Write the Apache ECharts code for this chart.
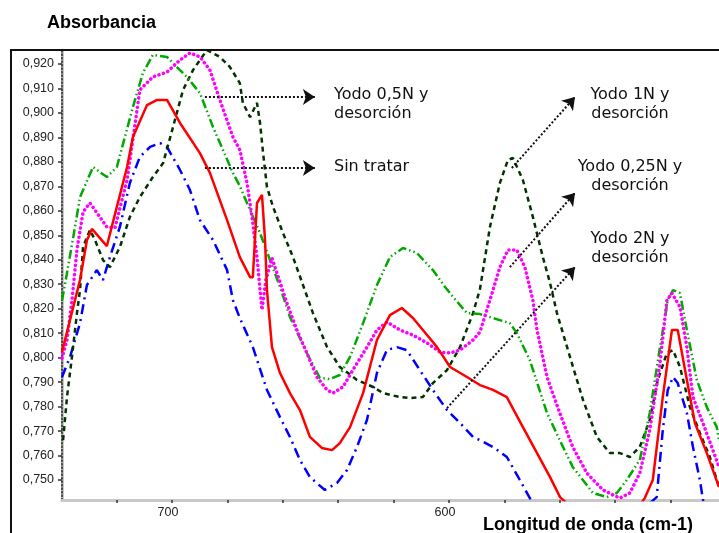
<!DOCTYPE html>
<html>
<head>
<meta charset="utf-8">
<script src="https://cdn.jsdelivr.net/npm/echarts@6/dist/echarts.min.js"></script>
<style>
html,body{margin:0;padding:0;background:#fff;}
#chart{width:719px;height:533px;}
</style>
</head>
<body>
<div id="chart"></div>
<script>
// ---- data (wavenumber cm-1, absorbance) ----
const sinTratar = [[739.7,0.8023],[733.2,0.8317],[730.7,0.848],[728.9,0.8526],[723.5,0.8456],[719.9,0.8616],[716.2,0.8779],[714.1,0.8902],[709.0,0.9032],[705.4,0.9053],[701.8,0.9053],[697.1,0.8959],[689.9,0.8836],[686.3,0.8755],[680.1,0.8562],[675.5,0.8411],[671.8,0.8329],[670.8,0.8329],[669.3,0.8632],[667.5,0.8665],[666.4,0.8481],[665.7,0.8276],[663.9,0.8043],[661.0,0.7937],[657.4,0.7855],[653.8,0.7786],[650.2,0.7676],[645.9,0.7631],[642.2,0.7622],[639.4,0.7651],[635.7,0.7716],[631.0,0.7855],[626.0,0.8072],[621.3,0.8174],[617.0,0.8203],[613.0,0.8162],[609.4,0.8113],[604.3,0.8043],[599.6,0.7962],[593.5,0.7921],[588.8,0.7888],[584.1,0.7868],[579.1,0.7839],[573.3,0.7716],[568.2,0.7610],[563.5,0.7512],[559.9,0.7430],[552,0.735],[542,0.731],[534,0.735],[529.3,0.7426],[526.4,0.7500],[522.8,0.7839],[519.5,0.8113],[517.4,0.8113],[514.1,0.7909],[511.2,0.7733],[506.9,0.7610],[502.5,0.7471]];

const yodo05N = [[739.7,0.8235],[739.0,0.8276],[737.9,0.8346],[735.0,0.8534],[733.2,0.8656],[728.5,0.8779],[723.5,0.8738],[719.9,0.8779],[714.1,0.9024],[710.5,0.9163],[706.9,0.9237],[701.8,0.9229],[697.1,0.9175],[694.6,0.9147],[689.9,0.9081],[685.2,0.8943],[678.0,0.8755],[675.5,0.8701],[671.8,0.8603],[668.2,0.8509],[664.6,0.8399],[661.0,0.8289],[657.4,0.8166],[651.3,0.8019],[646.6,0.7917],[643.0,0.7913],[639.4,0.7929],[635.7,0.8003],[631.0,0.8141],[626.0,0.8297],[621.3,0.8411],[616.6,0.8448],[611.6,0.8428],[605.8,0.8358],[601.4,0.8289],[598.5,0.8248],[593.5,0.8182],[588.8,0.8178],[584.1,0.8162],[578.0,0.8141],[575.5,0.8101],[570.8,0.7990],[564.6,0.7774],[560.0,0.7663],[555.3,0.7553],[548.0,0.7447],[543.0,0.7430],[539.4,0.7447],[535.8,0.7500],[531.1,0.7582],[527.5,0.7774],[523.8,0.8043],[521.0,0.8235],[519.1,0.8276],[516.6,0.8264],[514.1,0.8113],[510.5,0.7909],[506.9,0.7798],[503.3,0.7716],[502.5,0.766]];

const yodo025N = [[739.7,0.7998],[737.9,0.8072],[736.1,0.8235],[734.3,0.844],[732.1,0.8595],[729.6,0.8632],[728.9,0.8632],[723.5,0.8534],[720.6,0.8530],[716.2,0.8726],[711.6,0.9094],[706.9,0.9147],[701.8,0.9167],[697.1,0.9216],[693.5,0.9245],[689.9,0.9229],[686.3,0.9175],[682.7,0.9053],[678.0,0.8902],[675.5,0.8849],[672.9,0.8714],[671.1,0.8575],[669.3,0.8411],[667.5,0.8195],[666.1,0.8317],[663.9,0.8407],[662.1,0.8346],[658.5,0.8223],[654.9,0.8113],[651.3,0.8019],[647.7,0.7921],[644.0,0.7868],[641.9,0.7855],[638.3,0.7880],[634.7,0.7949],[629.6,0.8043],[626.0,0.8113],[622.4,0.8146],[617.7,0.8113],[613.0,0.8092],[607.9,0.8060],[603.3,0.8023],[599.6,0.8019],[596.0,0.8031],[591.3,0.8072],[588.8,0.8105],[585.2,0.8235],[581.6,0.8370],[578.7,0.8440],[575.5,0.8440],[572.6,0.8370],[569.7,0.8235],[568.2,0.8113],[564.6,0.7921],[560.0,0.7774],[555.3,0.7635],[550.2,0.7528],[544.4,0.7459],[538.3,0.7426],[534.7,0.7447],[531.1,0.7528],[527.5,0.7704],[523.8,0.7978],[521.3,0.8235],[519.5,0.8264],[516.6,0.8207],[514.1,0.8043],[511.9,0.7839],[508.3,0.7733],[504.7,0.7622],[502.5,0.7553]];

const yodo1N = [[739.3,0.7663],[737.9,0.7839],[736.1,0.8003],[734.3,0.8182],[733.2,0.8276],[732.1,0.8452],[729.6,0.8522],[727.8,0.8481],[724.9,0.8399],[722.4,0.8370],[718.8,0.8452],[715.2,0.8575],[711.6,0.8656],[706.9,0.8738],[703.2,0.8795],[699.6,0.8943],[696.0,0.9094],[692.4,0.9175],[687.4,0.9257],[682.7,0.9229],[679.1,0.9188],[675.5,0.9122],[674.4,0.9041],[671.8,0.8983],[669.3,0.9041],[668.2,0.8959],[667.1,0.8836],[665.7,0.8697],[663.5,0.8616],[659.9,0.8509],[656.3,0.8411],[652.7,0.8297],[649.1,0.8182],[644.0,0.8043],[639.4,0.7962],[633.2,0.7909],[627.4,0.7880],[623.8,0.7855],[617.7,0.7839],[614.1,0.7835],[609.4,0.7839],[605.8,0.7896],[600.7,0.7949],[596.0,0.8043],[591.3,0.8182],[588.8,0.8280],[585.2,0.8534],[581.6,0.8714],[578.7,0.8808],[576.9,0.8816],[573.3,0.8726],[569.7,0.8575],[566.1,0.8411],[563.5,0.8305],[561.0,0.8182],[556.3,0.8003],[551.6,0.7827],[546.6,0.7676],[541.9,0.7610],[538.3,0.7610],[534.7,0.7594],[531.1,0.7635],[527.5,0.7745],[524.6,0.7909],[521.3,0.8019],[519.1,0.8031],[516.6,0.7962],[513.0,0.7798],[509.4,0.7692],[505.8,0.7594],[503.3,0.7500],[502.5,0.747]];

const yodo2N = [[739.7,0.7921],[736.8,0.8003],[733.2,0.8141],[730.7,0.8297],[727.1,0.8358],[724.9,0.8317],[722.4,0.8411],[718.8,0.8534],[715.2,0.8714],[711.6,0.8820],[707.9,0.8861],[704.3,0.8877],[701.8,0.8861],[697.1,0.8767],[693.5,0.8685],[689.9,0.8562],[685.2,0.8481],[680.1,0.8358],[678.0,0.8235],[675.5,0.8162],[670.8,0.8043],[665.7,0.7868],[661.0,0.7757],[657.4,0.7676],[653.8,0.7582],[650.2,0.7512],[644.8,0.7459],[640.4,0.7488],[636.8,0.7541],[633.2,0.7635],[629.6,0.7745],[626.0,0.7937],[622.4,0.8031],[618.8,0.8043],[615.2,0.8031],[610.5,0.7949],[605.8,0.7868],[600.7,0.7786],[596.0,0.7733],[591.3,0.7676],[588.8,0.7663],[584.1,0.7635],[579.1,0.7594],[574.4,0.7500],[570.8,0.7426],[560,0.730],[540,0.728],[525.0,0.7430],[522.8,0.7704],[521.0,0.7868],[519.1,0.7921],[517.4,0.7896],[514.1,0.7774],[511.9,0.7635],[509.4,0.7500],[508.3,0.742],[505,0.732],[502.5,0.728]];

const yTicks = [0.75,0.76,0.77,0.78,0.79,0.80,0.81,0.82,0.83,0.84,0.85,0.86,0.87,0.88,0.89,0.90,0.91,0.92];
const xTicks = [520,540,560,580,600,620,640,660,680,700,720];
const xLabels = [600,700];

// annotation arrows: [from, to] in data coordinates
const arrowYodo05N = [[688.1,0.9065],[648.4,0.9065]];
const arrowSinTratar = [[688.1,0.8775],[648.4,0.8775]];
const arrowYodo1N = [[577.3,0.8775],[554.5,0.9065]];
const arrowYodo025N = [[578.0,0.8370],[554.5,0.8673]];
const arrowYodo2N = [[600.7,0.7794],[554.5,0.8370]];

const chart = echarts.init(document.getElementById('chart'), null, {renderer:'canvas'});
const FONT = '"Liberation Sans", Arial, sans-serif';
const ANN = '"DejaVu Sans", Verdana, sans-serif';

function arrow(pair){
  return [{coord:pair[0]},{coord:pair[1]}];
}

const option = {
  animation:false,
  backgroundColor:'#fff',
  grid:{left:62,right:0,top:50,bottom:33,containLabel:false},
  xAxis:{
    type:'value', inverse:true, min:502.5, max:739.7,
    axisLine:{show:true,onZero:false,lineStyle:{color:'#c8c8c8',width:3}},
    axisTick:{show:true,customValues:xTicks,length:3,lineStyle:{color:'#333',width:1.5}},
    axisLabel:{customValues:xLabels,fontSize:12.5,color:'#222',fontFamily:FONT,margin:6,padding:[0,8,0,0]},
    splitLine:{show:false}
  },
  yAxis:[{
    type:'value', min:0.74183, max:0.92572, position:'left',
    axisLine:{show:true,onZero:false,lineStyle:{color:'#c8c8c8',width:3}},
    axisTick:{show:true,customValues:yTicks,length:4,lineStyle:{color:'#333',width:1.5}},
    axisLabel:{customValues:yTicks,fontSize:12.5,color:'#222',fontFamily:FONT,margin:8,
      formatter:v=>v.toFixed(3).replace('.',',')},
    splitLine:{show:false}
  },{
    type:'value', min:0.74183, max:0.92572, position:'left',
    axisLine:{show:true,onZero:false,lineStyle:{color:'#222',width:1.5,type:[1.5,2]}},
    axisTick:{show:false}, axisLabel:{show:false}, splitLine:{show:false}
  }],
  series:[
    {name:'Yodo 2N y desorción',type:'line',data:yodo2N,showSymbol:false,
     lineStyle:{color:'#0000ff',width:2.5,type:[10,5,2,5]}},
    {name:'Yodo 1N y desorción',type:'line',data:yodo1N,showSymbol:false,
     lineStyle:{color:'#003300',width:2.5,type:[5,4]}},
    {name:'Yodo 0,5N y desorción',type:'line',data:yodo05N,showSymbol:false,
     lineStyle:{color:'#00a800',width:2.5,type:[9,3,1.5,3,1.5,3]}},
    {name:'Yodo 0,25N y desorción',type:'line',data:yodo025N,showSymbol:false,
     lineStyle:{color:'#ff00ff',width:3.5,type:[0.1,4.6],cap:'round'}},
    {name:'Sin tratar',type:'line',data:sinTratar,showSymbol:false,
     lineStyle:{color:'#ff0000',width:2.5},
     markLine:{
       silent:true, animation:false,
       symbol:['none','arrow'], symbolSize:12,
       label:{show:false},
       lineStyle:{color:'#111',width:2,type:[2,2]},
       emphasis:{disabled:true},
       data:[arrow(arrowYodo05N),arrow(arrowSinTratar),arrow(arrowYodo1N),arrow(arrowYodo025N),arrow(arrowYodo2N)]
     }}
  ],
  graphic:[
    {type:'rect',z:100,silent:true,shape:{x:11,y:50,width:760,height:520},
     style:{fill:null,stroke:'#111',lineWidth:2}},
    {type:'text',left:47,top:14,style:{text:'Absorbancia',font:'bold 18px '+FONT,fill:'#000'}},
    {type:'text',left:483,top:516,style:{text:'Longitud de onda (cm-1)',font:'bold 18px '+FONT,fill:'#000'}},
    {type:'text',x:334,y:85,style:{text:'Yodo 0,5N y\ndesorción',font:'16px '+ANN,fill:'#111',lineHeight:19,textAlign:'left'}},
    {type:'text',x:334,y:157,style:{text:'Sin tratar',font:'16px '+ANN,fill:'#111',lineHeight:19,textAlign:'left'}},
    {type:'text',x:630,y:85,style:{text:'Yodo 1N y\ndesorción',font:'16px '+ANN,fill:'#111',lineHeight:19,textAlign:'center'}},
    {type:'text',x:630,y:157,style:{text:'Yodo 0,25N y\ndesorción',font:'16px '+ANN,fill:'#111',lineHeight:19,textAlign:'center'}},
    {type:'text',x:630,y:229,style:{text:'Yodo 2N y\ndesorción',font:'16px '+ANN,fill:'#111',lineHeight:19,textAlign:'center'}}
  ]
};
chart.setOption(option);
</script>
</body>
</html>
